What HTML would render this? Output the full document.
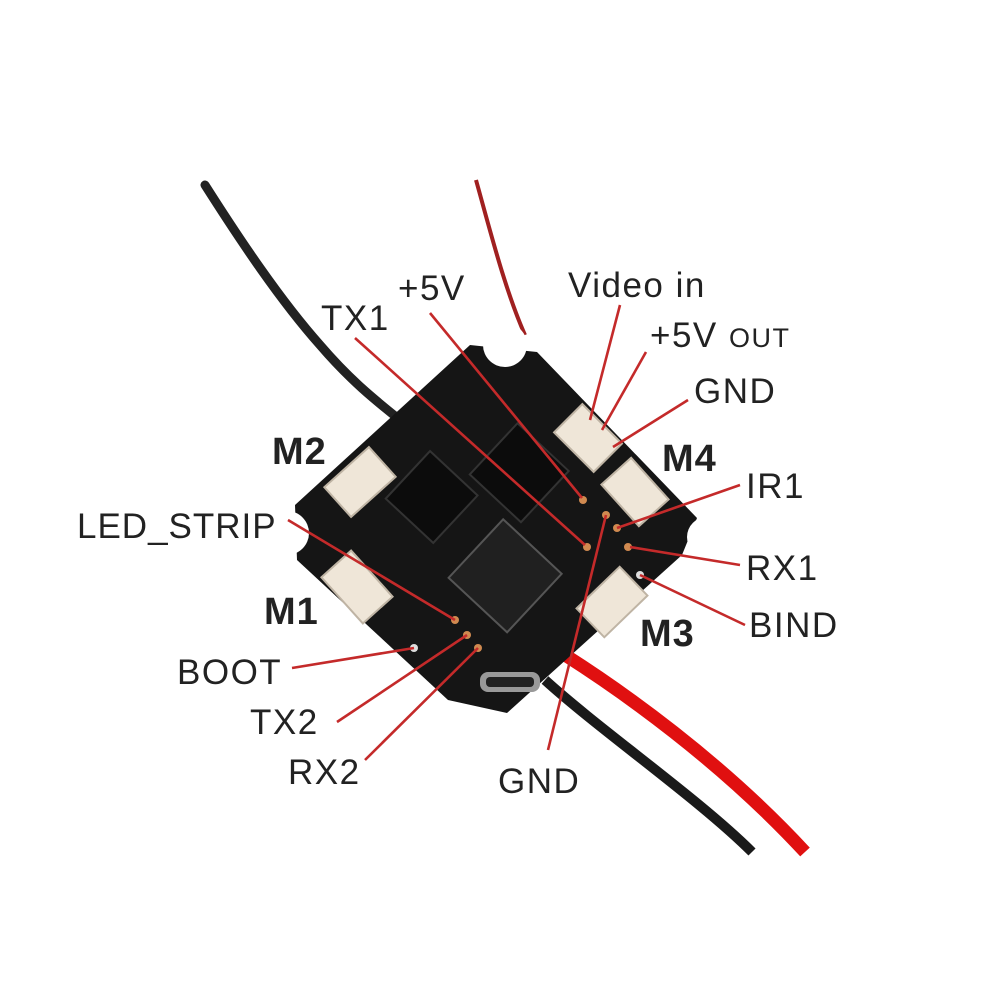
<!DOCTYPE html>
<html><head><style>
html,body{margin:0;padding:0;background:#fff;}
svg{display:block;}
text{font-family:"Liberation Sans","DejaVu Sans",sans-serif;fill:#222;}
</style></head><body>
<svg width="1000" height="1000" viewBox="0 0 1000 1000">
<rect width="1000" height="1000" fill="#fff"/>
<path d="M205,185 C240,240 280,300 320,345 C350,380 375,400 400,420" stroke="#222" stroke-width="9" fill="none" stroke-linecap="round"/>
<path d="M476,180 C490,230 505,290 525,335" stroke="#a02020" stroke-width="4" fill="none"/>
<path d="M545,680 C600,730 700,800 752,852" stroke="#1a1a1a" stroke-width="10" fill="none"/>
<path d="M565,655 C620,690 720,760 805,852" stroke="#e01010" stroke-width="13" fill="none"/>
<polygon points="470,345 537,352 697,518 682,555 507,713 448,700 297,560 295,505" fill="#151515"/>
<circle cx="505" cy="345" r="22" fill="#fff"/>
<circle cx="707" cy="537" r="20" fill="#fff"/>
<circle cx="477" cy="735" r="24" fill="#fff"/>
<circle cx="287" cy="533" r="22" fill="#fff"/>
<g transform="rotate(43 500 530)">
<rect x="440" y="440" width="70" height="70" fill="#0c0c0c" stroke="#333" stroke-width="2"/>
<rect x="495" y="520" width="80" height="80" fill="#202020" stroke="#555" stroke-width="2"/>
<rect x="395" y="520" width="65" height="65" fill="#0c0c0c" stroke="#333" stroke-width="2"/>
</g>
<rect x="480" y="672" width="60" height="20" rx="8" fill="#999"/>
<rect x="486" y="677" width="48" height="10" rx="4" fill="#222"/>
<g fill="#efe6d8" stroke="#bfb4a4" stroke-width="2">
<rect x="330" y="462" width="60" height="40" transform="rotate(-42 360 482)"/>
<rect x="326" y="567" width="62" height="40" transform="rotate(48 357 587)"/>
<rect x="607" y="472" width="56" height="40" transform="rotate(48 635 492)"/>
<rect x="582" y="582" width="60" height="40" transform="rotate(-44 612 602)"/>
<rect x="560" y="418" width="56" height="40" transform="rotate(45 588 438)"/>
</g>
<g fill="#d08a50">
<circle cx="583" cy="500" r="4"/><circle cx="606" cy="515" r="4"/><circle cx="617" cy="528" r="4"/>
<circle cx="628" cy="547" r="4"/><circle cx="587" cy="547" r="4"/><circle cx="455" cy="620" r="4"/>
<circle cx="467" cy="635" r="4"/><circle cx="478" cy="648" r="4"/></g>
<circle cx="640" cy="575" r="4" fill="#ddd"/><circle cx="414" cy="648" r="4" fill="#ddd"/>
<g stroke="#c42a2a" stroke-width="2.6" fill="none">
<line x1="355" y1="338" x2="585" y2="545"/>
<line x1="430" y1="313" x2="582" y2="498"/>
<line x1="620" y1="305" x2="590" y2="420"/>
<line x1="646" y1="352" x2="602" y2="430"/>
<line x1="688" y1="400" x2="613" y2="447"/>
<line x1="740" y1="485" x2="617" y2="528"/>
<line x1="740" y1="565" x2="630" y2="547"/>
<line x1="745" y1="625" x2="640" y2="575"/>
<line x1="548" y1="750" x2="606" y2="515"/>
<line x1="365" y1="760" x2="478" y2="648"/>
<line x1="337" y1="722" x2="467" y2="635"/>
<line x1="292" y1="668" x2="414" y2="648"/>
<line x1="288" y1="520" x2="455" y2="620"/>
</g>
<g font-size="35" letter-spacing="1.5">
<text x="321" y="330">TX1</text>
<text x="398" y="300">+5V</text>
<text x="568" y="297">Video in</text>
<text x="650" y="347">+5V <tspan font-size="27">OUT</tspan></text>
<text x="694" y="403">GND</text>
<text x="746" y="498">IR1</text>
<text x="746" y="580">RX1</text>
<text x="749" y="637">BIND</text>
<text x="498" y="793">GND</text>
<text x="288" y="784">RX2</text>
<text x="250" y="734">TX2</text>
<text x="177" y="684">BOOT</text>
<text x="77" y="538" letter-spacing="1">LED_STRIP</text>
</g>
<g font-size="38" font-weight="bold" letter-spacing="1">
<text x="272" y="464">M2</text>
<text x="264" y="624">M1</text>
<text x="662" y="471">M4</text>
<text x="640" y="646">M3</text>
</g>
</svg>
</body></html>
